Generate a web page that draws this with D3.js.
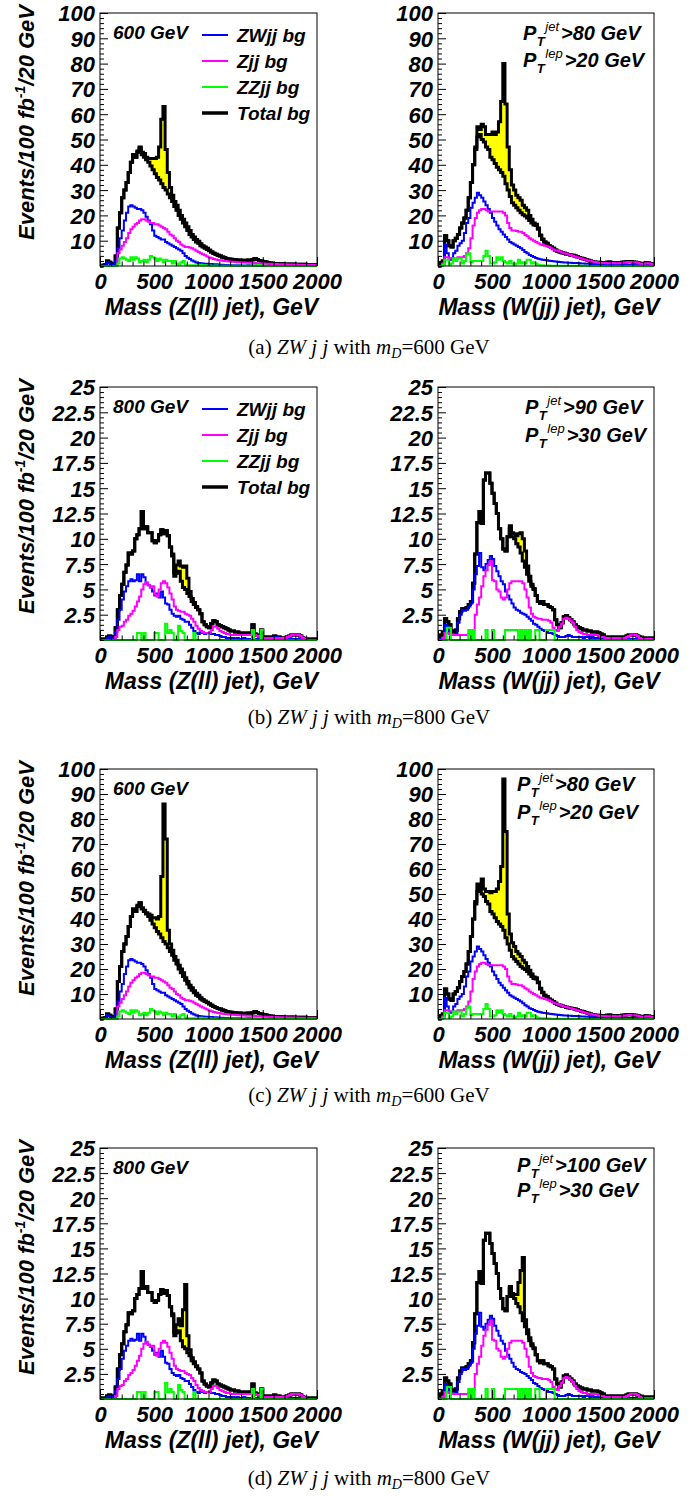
<!DOCTYPE html>
<html><head><meta charset="utf-8">
<script src="https://cdn.jsdelivr.net/npm/d3@7"></script>
<style>body{margin:0;background:#fff}svg{display:block}</style>
</head><body>
<script>
// ---------- DATA (20 GeV bins, 0..2000 GeV) ----------
const binWidth = 20;
const nBins = 100;
const xTickValues = [0, 500, 1000, 1500, 2000];
const seriesNames = ["ZWjj bg", "Zjj bg", "ZZjj bg", "Total bg"];

// Z(ll) jet mass, 600 GeV selection
const zll600ZW = [0,0,0.3,1.5,1,0.3,0.5,2,7,11,14,18,21,23.5,24,23.5,23,22.5,22.5,22,21,19.5,18,16.5,14,12,11.5,11,10.5,10.5,9.5,9,8.5,8,7.5,7,6.5,6,5,4,3.3,2.8,2.2,1.8,1.4,1.2,1.1,1,0.9,0.9,0.8,0.8,0.7,0.7,0.6,0.5,0.5,0.4,0.4,0.3,0.3,0.3,0.3,0.2,0.3,0.2,0.2,0.2,0.3,0.2,0.2,0.2,0.2,0.1,0.2,0.1,0.2,0.1,0.1,0.1,0.1,0.1,0.1,0.1,0.1,0.1,0.1,0.1,0.1,0.1,0.1,0.1,0.1,0.1,0.1,0.1,0.1,0.1,0.1,0.1];
const zll600Zjj = [0,0,0,0,0,0,0,0,5,6.5,8,9.5,11,13,14.5,15.5,16.5,17,18,18.5,18.5,18,17.5,17,17,16.5,16.5,16,15.5,15,14.5,13.5,12.5,12,11,10,9.5,8.5,8,7.5,7.5,7.3,7,6.5,6,5.5,5,4.6,4.2,3.8,3.4,3.1,2.8,2.6,2.4,2.3,2.1,2,1.9,1.8,1.7,1.7,1.6,1.5,1.5,1.4,1.4,1.3,1.3,1.3,1.2,1.2,1.1,1.1,1,1,0.9,0.9,0.9,0.8,0.8,0.8,0.7,0.7,0.7,0.7,0.6,0.6,0.6,0.6,0.6,0.5,0.5,0.5,0.5,0.5,0.5,0.5,0.5,0.5];
const zll600ZZ = [0,0,0,0,0,0,0,0,1,3,3.5,3,2.5,2,3.5,2.5,3.5,3,1.5,2,2.5,1.5,2.5,4,3.5,3,2,3,2.5,1.5,2.5,2,2,1,2,1,0.5,1.5,2,0.5,0.3,0.3,0.3,0.3,0.2,0.3,0.5,0.2,0.3,0.2,0.2,0.1,0.1,0.2,0.1,0.1,0.1,0.1,0.1,0.1,0.1,0.1,0.1,0.1,0.1,0.1,0.1,0.1,0.1,0.1,0.1,0.1,0.3,0.4,0.1,0.1,0.1,0,0,0,0,0,0,0,0,0,0,0,0,0,0,0,0,0,0,0,0,0,0,0];
const zll600Total = [0,0.3,0.5,2,1.5,0.5,1,4,15,21,27,30,33,37,41,44,43,45,46.5,44,43,42,41,39.5,38,36.5,35,34,32.5,31,30,28.5,27,25.5,23.5,22,20,18.5,17,15.5,14,12.5,11.5,10.5,9.5,9,8,7.5,7,6.5,6,5.5,5,4.6,4.2,4,3.6,3.3,3,2.8,2.7,2.6,2.5,2.4,2.4,2.3,2.3,2.2,2.4,2.3,2.5,3,2.6,2.2,2,1.8,1.6,1.4,1.2,1.1,1,1,0.9,0.9,0.9,0.8,0.8,0.8,0.7,0.8,0.7,0.7,0.7,0.6,0.7,0.6,0.6,0.6,0.6,0.6];

// W(jj) jet mass, 600 GeV selection
const wjj600ZW = [0,0,0.5,8.5,5,2.5,3,5,6,8,9,10,13,17,19,23,25,27,29,28,27,25.5,24,22.5,21,19,17.5,16,14.5,13.5,12.5,11.5,10.5,9.5,9,8.5,8,7.5,7,6.3,5.5,5,4.3,4,3.6,3.2,2.9,2.7,2.5,2.4,2.3,2.1,2,1.9,1.8,1.7,1.6,1.5,1.4,1.4,1.3,1.3,1.2,1.2,1.2,1.1,1,1,0.9,0.9,0.8,0.8,0.7,0.7,0.7,0.6,0.6,0.6,0.5,0.5,0.5,0.5,0.5,0.4,0.4,0.4,0.4,0.4,0.4,0.4,0.4,0.3,0.3,0.3,0.3,0.3,0.3,0.3,0.3,0.3];
const wjj600Zjj = [0,0,1,3.5,3.5,3,3,3,3,3.5,3.5,3.5,4,5,7,11,16,19,21,22,22.5,22.5,22,21.5,21.5,21.5,21.5,21.5,21.5,21.5,21,20,17,15,14,14,13.8,13.5,13.5,13,12.3,11.8,11,10.5,10,9.5,9,8.5,8.3,8,7.8,7.5,7,6.5,6.2,6,5.7,5.3,5,4.8,4.5,4.3,4,3.8,3.5,3.2,3,2.7,2.5,2.2,2,1.8,1.6,1.5,1.3,1.2,1.2,1.2,1.1,1.1,1.2,1.2,1.1,1.1,1.2,1.3,1.4,1.5,1.6,1.6,1.5,1.5,1.3,1,0.9,0.9,1.1,1.1,0.9,0.8];
const wjj600ZZ = [0,0,0.5,2.5,2.5,0.5,1,3,2,3,3,1,2,4.5,5,1.5,2,2,2,2,2,4,6,4,1,1,1.5,3.5,2.5,3.5,2,1.5,1,2,1,0.5,1,2.5,1,1.5,1,2.5,2.5,1,1.5,1,0.5,0.3,0.3,0.2,0.2,0.2,0.1,0.1,0.1,0.1,0.1,0.1,0.1,0.1,0.1,0.1,0.1,0.1,0.1,0.1,0.1,0.1,0.1,0.1,0,0,0,0,0,0,0,0,0,0,0,0,0,0,0,0,0,0,0,0,0,0,0,0,0,0,0,0,0,0];
const wjj600Total = [0,1,2,12,10,8,7.5,10,11,12.5,15,17,19,22,27,33,40,46,51,52,50,49,47,46,43,42,40.5,39,38,37,35.5,32.5,30,27.5,25,24,23,22,21,20.3,19.8,19,18,17,16.2,16,14.5,12,10.5,9.5,9,8,7.5,7,6.3,5.8,5.5,5.2,5,4.7,4.5,4.3,4.2,4,3.7,3.4,3.1,2.9,2.6,2.3,2,1.8,1.6,1.5,1.5,1.4,1.4,1.3,1.5,1.6,1.4,1.3,1.3,1.3,1.4,1.5,1.6,1.7,1.8,1.7,1.6,1.5,1.3,1.1,1,1,1.3,1.2,1,0.9];

// Z(ll) jet mass, 800 GeV selection
const zll800ZW = [0,0,0,0.2,0.3,0.1,0.2,0.8,2,3,4,4.8,5.3,5.8,6,5.8,5.9,6.5,5.8,6.5,6.2,5.6,5.4,5.2,4.8,4.4,4.6,4.2,4.8,4.2,3.6,3.5,3,2.6,2.4,2.3,2.4,2.1,2,1.8,1.8,1.5,1.2,0.9,0.7,0.6,0.8,0.7,0.6,0.7,0.7,0.6,0.6,0.5,0.5,0.4,0.3,0.3,0.2,0.2,0.2,0.2,0.1,0.2,0.1,0.1,0.2,0.1,0.1,0.1,0.1,0.1,0.1,0.1,0.1,0.1,0.1,0.1,0.1,0.1,0.3,0.3,0.2,0.1,0.1,0.1,0.1,0.1,0.1,0.1,0.1,0.1,0.1,0.1,0.1,0,0,0,0,0];
const zll800Zjj = [0,0,0,0,0,0,0,0.3,1,1.3,1.4,1.8,2,2.4,2.6,2.9,3.3,3.8,4.3,5,5.5,5.7,5.4,5.2,5.3,4.5,4.3,5,5.6,5.8,5.6,5.2,4.6,4,3.3,3,2.9,2.8,2.8,2.6,2.5,2.4,2.1,1.8,1.4,1.1,0.9,0.8,0.7,0.7,0.7,1,1.3,1.3,1.1,0.9,0.8,0.7,0.6,0.6,0.5,0.5,0.5,0.5,0.5,0.5,0.5,0.5,0.5,0.5,0.5,0.5,0.4,0.4,0.3,0.2,0.2,0.2,0.2,0.2,0.2,0.2,0.2,0.2,0.2,0.2,0.3,0.4,0.5,0.5,0.5,0.5,0.4,0.2,0.1,0,0,0,0,0];
const zll800ZZ = [0,0,0,0,0,0,0,0,0,0,0,0,0,0,0,0,0,0.7,0.7,0,0.7,0,0,0,0,0.7,0.7,0,0,0,1.6,0.7,1,0.7,0,0,1.4,0.9,0.7,0,0,0,0,0.7,0,0,0,0,0,0,0,0,0,0,0,0,0,0,0,0,0,0,0,0,0,0,0,0,0,0,1,0,0,0,1,0,0,0,0,0,0,0,0,0,0,0,0,0,0,0,0,0,0,0,0,0,0,0,0,0];
const zll800Total = [0.1,0.1,0.1,0.3,0.4,0.2,0.3,1.2,3,4.4,5.5,6.7,7.4,8.6,8.5,8.8,10,10.4,11,12.7,11,11.2,10.6,10.6,9.8,9.6,9.8,10.4,10.9,10.5,10.8,10.3,9.2,8.3,6.3,6.6,6.8,5.8,5.2,5,4.6,4.3,3.8,3.5,3.2,3,2.6,1.8,1.5,1.3,1.2,1.6,1.9,1.8,1.5,1.4,1.3,1.2,1.1,1,0.9,0.9,0.8,0.8,0.7,0.7,0.7,0.7,0.7,0.7,1.5,0.6,0.5,0.4,1,0.3,0.3,0.3,0.3,0.3,0.4,0.3,0.3,0.2,0.2,0.2,0.3,0.4,0.5,0.5,0.5,0.5,0.4,0.2,0.1,0.1,0.1,0.1,0.1,0.1];

// W(jj) jet mass, 800 GeV selection
const wjj800ZW = [0,0.1,0.2,1.5,1.3,0.8,0.5,0.5,0.6,1.7,2.5,3,2.9,3,3.3,3.6,5,6.5,7.3,8.6,7.2,6.9,7.5,7.9,8.3,8,7.3,6.8,6.3,5.8,5.5,4.8,4.4,4,3.6,3.2,3,2.9,2.7,2.6,2.5,2.3,2.1,1.9,1.6,1.5,1.3,1.1,1,0.9,0.8,0.7,0.7,0.6,0.5,0.4,0.3,0.3,0.3,0.4,0.5,0.4,0.3,0.3,0.3,0.3,0.3,0.2,0.3,0.3,0.2,0.3,0.2,0.2,0.2,0.2,0.2,0.1,0.1,0.1,0.1,0.1,0.1,0.1,0.1,0.1,0.1,0.1,0.1,0.1,0.1,0.1,0.1,0.1,0.1,0.1,0.1,0.1,0.1,0.1];
const wjj800Zjj = [0,0,0.2,0.7,0.7,0.6,0.5,0.5,0.5,0.5,0.5,0.5,0.5,0.5,0.6,0.7,1,2.5,3.5,4.2,5.3,6.3,6.9,7.4,7.8,5.9,5.8,5,4.8,4.2,4,4.2,5,5.6,5.8,5.8,5.8,5.8,5.8,5.6,5,4.2,3.2,2.6,2.3,2.2,2.1,2.1,2,2,2,1.9,1.7,1.2,1,0.9,1.3,1.6,2.1,2.2,2.1,1.9,1.7,1.3,1,0.8,0.7,0.6,0.6,0.5,0.5,0.5,0.5,0.5,0.4,0.3,0.3,0.2,0.2,0.2,0.2,0.2,0.2,0.2,0.2,0.2,0.2,0.3,0.4,0.5,0.5,0.5,0.4,0.2,0.1,0.1,0.1,0.1,0.1,0.1];
const wjj800ZZ = [0,0,0,0,1.2,1.2,0,0,0,0,0,0,0,0,1,0,1,0,0,0,0,0,1,0,0,1,0,0,0,0,0,1,1,1,1,1,1,0,1,0,1,0,1,0,0,1,1,0,0,0,1,1,1,1,0,0,0,0,0,0,0,0,0,0,0,0,0,0,0,0,0,0,0,0,0,0,0,0,0,0,0,0,0,0,0,0,0,0,0,0,0,0,0,0,0,0,0,0,0,0];
const wjj800Total = [0.1,0.5,0.8,2.1,1.8,1.5,0.9,0.8,1,2.1,2.8,3.1,3.1,3.2,3.5,3.8,5.6,8.5,11.6,12.7,11.5,15.8,16.5,16.5,15.5,14.5,13.5,12.5,11,10,9,8.8,10.2,11,10.2,10,9.5,9.2,8.6,7.8,7.2,6.5,5.8,5.3,5,4.4,3.8,3.6,3.8,3.5,3.5,3.3,3.2,3,2,1.5,1.2,1.7,2.3,2.4,2.2,2,1.8,1.5,1.3,1.2,1.1,1,1,0.9,0.9,0.8,0.8,0.8,0.7,0.6,0.5,0.3,0.3,0.3,0.3,0.3,0.3,0.3,0.3,0.3,0.3,0.4,0.5,0.5,0.5,0.5,0.4,0.3,0.2,0.2,0.2,0.2,0.2,0.2];

// signal excess over total background (starting at given bin)
const sigStart600 = 17;
const sigA_zll = [0.5,0.5,1,1.5,1,1.5,3,4.5,6,8,13,25.5,32,16,8.5,4,2.5,2,2,2,1.5,1.5,1.5,1.5,1.5,1,1,1,0.8,0.8,0.5,0.5,0.5,0.3];
const sigA_wjj = [1,4,2,6,6,5,6,9,11,11.5,14,19,28,44.5,31.5,17,10.5,7,6,5,5,5,3.7,3.2,3,2,1.5,0.8,0.5,0.5,0.3,0.2];
const sigC_zll = [0.5,0,0.5,0.5,0.5,1,2,2.5,4,5,7,24.5,55,42,7,3,2,1.5,1.5,1.5,1.5,1.5,1,1,1,1,0.8,0.8,0.5,0.5,0.3,0.2,0.2,0.1];
const sigC_wjj = [1,3,1,6,3,4,5,7.5,9,10.5,13,17,24,60.5,42.5,12,6.5,5.5,5,4,4,4,3.2,2.7,2,1.5,1,0.6,0.5,0.3,0.3,0.2];
const sigStart800 = 33;
const sigB_zll = [0.2,0.3,0.8,1.0,1.5,2.0,2.3,1.5,0.5,0.3,0.2,0.1];
const sigB_wjj = [0.3,0.4,0.5,0.8,1.3,2.0,2.2,1.6,0.8,0.5,0.2,0.1];
const sigD_zll = [0.2,0.3,0.8,1.2,1.5,3.7,6.4,1.7,0.6,0.3,0.2,0.1];
const sigD_wjj = [0.2,0.3,0.4,0.9,2.4,4.2,6.3,0.7,0.4,0.3,0.2,0.1];

const captionLetters = ["(a)", "(b)", "(c)", "(d)"];
const captionMass = ["600", "800", "600", "800"];
const cutJet = ["80", "90", "80", "100"];
const cutLep = ["20", "30", "20", "30"];

// ---------- LAYOUT ----------
const W = 699, H = 1497;
const FONT = "'Liberation Sans', Arial, Helvetica, sans-serif";
const SERIF = "'Liberation Serif', 'Times New Roman', serif";
const colX = {L: [100, 317], R: [438, 654]};
const rowY = [[13, 266], [387, 640], [769, 1019], [1148, 1399]];
const captionY = [354, 724, 1102, 1485];
const cutPos = [{x: 523, dy: [27, 54]}, {x: 525, dy: [27, 55]}, {x: 517, dy: [22, 50]}, {x: 517, dy: [24, 49]}];
const colors = {zw: "#0000ff", zjj: "#ff00ff", zz: "#00ff00", tot: "#000000", sig: "#ffff00"};

const panels = [
  {row: 0, col: "L", ymax: 100, zw: zll600ZW, zjj: zll600Zjj, zz: zll600ZZ, tot: zll600Total, sig: sigA_zll, s0: sigStart600, xt: "Mass (Z(ll) jet), GeV", mass: "600 GeV", legend: true},
  {row: 0, col: "R", ymax: 100, zw: wjj600ZW, zjj: wjj600Zjj, zz: wjj600ZZ, tot: wjj600Total, sig: sigA_wjj, s0: sigStart600, xt: "Mass (W(jj) jet), GeV"},
  {row: 1, col: "L", ymax: 25, zw: zll800ZW, zjj: zll800Zjj, zz: zll800ZZ, tot: zll800Total, sig: sigB_zll, s0: sigStart800, xt: "Mass (Z(ll) jet), GeV", mass: "800 GeV", legend: true},
  {row: 1, col: "R", ymax: 25, zw: wjj800ZW, zjj: wjj800Zjj, zz: wjj800ZZ, tot: wjj800Total, sig: sigB_wjj, s0: sigStart800, xt: "Mass (W(jj) jet), GeV"},
  {row: 2, col: "L", ymax: 100, zw: zll600ZW, zjj: zll600Zjj, zz: zll600ZZ, tot: zll600Total, sig: sigC_zll, s0: sigStart600, xt: "Mass (Z(ll) jet), GeV", mass: "600 GeV"},
  {row: 2, col: "R", ymax: 100, zw: wjj600ZW, zjj: wjj600Zjj, zz: wjj600ZZ, tot: wjj600Total, sig: sigC_wjj, s0: sigStart600, xt: "Mass (W(jj) jet), GeV"},
  {row: 3, col: "L", ymax: 25, zw: zll800ZW, zjj: zll800Zjj, zz: zll800ZZ, tot: zll800Total, sig: sigD_zll, s0: sigStart800, xt: "Mass (Z(ll) jet), GeV", mass: "800 GeV"},
  {row: 3, col: "R", ymax: 25, zw: wjj800ZW, zjj: wjj800Zjj, zz: wjj800ZZ, tot: wjj800Total, sig: sigD_wjj, s0: sigStart800, xt: "Mass (W(jj) jet), GeV"}
];

const svg = d3.select("body").append("svg").attr("width", W).attr("height", H)
  .attr("font-family", FONT);
svg.append("rect").attr("width", W).attr("height", H).attr("fill", "#fff");

function bold(sel, size) {
  return sel.attr("font-family", FONT).attr("font-size", size)
    .attr("font-weight", "bold").attr("font-style", "italic").attr("fill", "#000");
}

panels.forEach((p, idx) => {
  const [x0, x1] = colX[p.col];
  const [top, bot] = rowY[p.row];
  const x = d3.scaleLinear().domain([0, nBins * binWidth]).range([x0, x1]);
  const y = d3.scaleLinear().domain([0, p.ymax]).range([bot, top]);
  const g = svg.append("g");

  const sigAt = k => (k >= p.s0 && k < p.s0 + p.sig.length) ? p.sig[k - p.s0] : 0;
  const pts = d3.range(nBins + 1).map(i => ({e: i * binWidth, k: Math.min(i, nBins - 1)}));
  const step = acc => d3.line().curve(d3.curveStepAfter).x(d => x(d.e)).y(d => y(acc(d.k)));

  // signal (yellow) between total bg and total bg + signal
  g.append("path")
    .attr("d", d3.area().curve(d3.curveStepAfter).x(d => x(d.e))
      .y0(d => y(p.tot[d.k])).y1(d => y(p.tot[d.k] + sigAt(d.k)))(pts))
    .attr("fill", colors.sig).attr("stroke", "none");
  g.append("path").attr("d", step(k => p.tot[k] + sigAt(k))(pts))
    .attr("fill", "none").attr("stroke", colors.tot).attr("stroke-width", 3);
  g.append("path").attr("d", step(k => p.tot[k])(pts))
    .attr("fill", "none").attr("stroke", colors.tot).attr("stroke-width", 3);
  [["zw", p.zw], ["zjj", p.zjj], ["zz", p.zz]].forEach(([key, arr]) => {
    g.append("path").attr("d", step(k => arr[k])(pts))
      .attr("fill", "none").attr("stroke", colors[key]).attr("stroke-width", 2);
  });

  // frame
  g.append("rect").attr("x", x0).attr("y", top).attr("width", x1 - x0).attr("height", bot - top)
    .attr("fill", "none").attr("stroke", "#000").attr("stroke-width", 1);

  // y axis
  const yMajor = p.ymax === 100 ? d3.range(10, 100.01, 10) : d3.range(2.5, 25.01, 2.5);
  const yMinStep = p.ymax === 100 ? 2 : 0.5;
  const yMinor = d3.range(0, p.ymax + 0.001, yMinStep).filter(v => !yMajor.some(m => Math.abs(m - v) < 1e-6));
  const ya = g.append("g").attr("transform", `translate(${x0},0)`)
    .call(d3.axisLeft(y).tickValues(yMajor).tickSizeInner(-8).tickSizeOuter(0).tickPadding(5)
      .tickFormat(v => String(+v.toFixed(1))));
  ya.select(".domain").remove();
  bold(ya.selectAll("text"), 22).attr("dy", "0.36em");
  const ym = g.append("g").attr("transform", `translate(${x0},0)`)
    .call(d3.axisLeft(y).tickValues(yMinor).tickSize(-4).tickFormat(""));
  ym.select(".domain").remove();

  // x axis
  const xa = g.append("g").attr("transform", `translate(0,${bot})`)
    .call(d3.axisBottom(x).tickValues(xTickValues).tickSizeInner(-9).tickSizeOuter(0).tickPadding(7.5)
      .tickFormat(d3.format("d")));
  xa.select(".domain").remove();
  bold(xa.selectAll("text"), 22);
  const xMinor = d3.range(100, 2000, 100).filter(v => v % 500 !== 0);
  const xm = g.append("g").attr("transform", `translate(0,${bot})`)
    .call(d3.axisBottom(x).tickValues(xMinor).tickSize(-4.5).tickFormat(""));
  xm.select(".domain").remove();

  // x title
  bold(g.append("text"), 23).attr("x", (x0 + x1) / 2 + 3).attr("y", bot + 49)
    .attr("text-anchor", "middle").text(p.xt);

  if (p.col === "L") {
    const yt = bold(g.append("text"), 22).attr("text-anchor", "end")
      .attr("transform", `translate(34,${top - 8}) rotate(-90)`);
    yt.append("tspan").text("Events/100 fb");
    yt.append("tspan").attr("font-size", 14).attr("dy", -9).text("-1");
    yt.append("tspan").attr("dy", 9).text("/20 GeV");
    bold(g.append("text"), 19).attr("x", 113).attr("y", top + 26).text(p.mass);
    if (p.legend) {
      const rows = [[colors.zw, 2, 22], [colors.zjj, 2, 48], [colors.zz, 2, 74], [colors.tot, 3.5, 100]];
      rows.forEach((r, i) => {
        g.append("line").attr("x1", 202).attr("x2", 228).attr("y1", top + r[2]).attr("y2", top + r[2])
          .attr("stroke", r[0]).attr("stroke-width", r[1]);
        bold(g.append("text"), 19).attr("x", 237).attr("y", top + r[2] + 7).text(seriesNames[i]);
      });
    }
  } else {
    const c = cutPos[p.row];
    const lines = [["jet", ">" + cutJet[p.row] + " GeV"], ["lep", ">" + cutLep[p.row] + " GeV"]];
    lines.forEach((ln, i) => {
      const yb = top + c.dy[i];
      const P = bold(g.append("text"), 20).attr("x", c.x).attr("y", yb).text("P");
      const wP = P.node().getComputedTextLength();
      const xT = c.x + wP + 0.5;
      const T = bold(g.append("text"), 13).attr("x", xT).attr("y", yb + 6).text("T");
      const wT = T.node().getComputedTextLength();
      const xs = xT + wT + 0.5;
      const sup = g.append("text").attr("font-family", FONT).attr("font-size", 13)
        .attr("font-style", "italic").attr("x", xs).attr("y", yb - 9).text(ln[0]);
      const wS = sup.node().getComputedTextLength();
      bold(g.append("text"), 20).attr("x", xs + wS + 2).attr("y", yb).text(ln[1]);
    });
  }
});

// captions
captionLetters.forEach((lab, i) => {
  const t = svg.append("text").attr("x", 369).attr("y", captionY[i]).attr("text-anchor", "middle")
    .attr("font-family", SERIF).attr("font-size", 21).attr("fill", "#000");
  t.append("tspan").text(lab + " ");
  t.append("tspan").attr("font-style", "italic").text("ZW j j");
  t.append("tspan").text(" with ");
  t.append("tspan").attr("font-style", "italic").text("m");
  t.append("tspan").attr("font-style", "italic").attr("font-size", 14).attr("dy", 4).text("D");
  t.append("tspan").attr("dy", -4).text("=" + captionMass[i] + " GeV");
});
</script>
</body></html>
